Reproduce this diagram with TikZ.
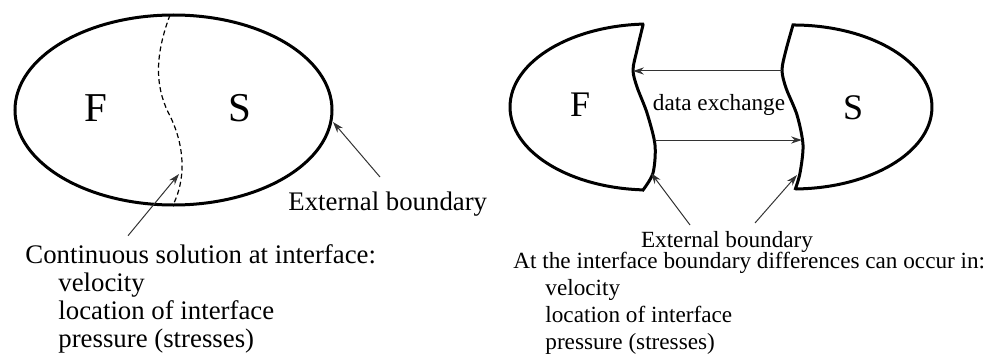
\documentclass[tikz,border=0pt]{standalone}
\usepackage{fontspec}
\setmainfont{Liberation Serif}
\usetikzlibrary{arrows.meta, positioning, calc}

\begin{document}
\begin{tikzpicture}[
    x=0.5pt, y=0.5pt,
    >=Stealth,
    region/.style={draw, line width=1.5pt},
    iface/.style={line width=0.6pt, dash pattern=on 2.5pt off 1.6pt},
    arr/.style={-{Stealth[length=5.5pt, width=3.6pt]}, line width=0.5pt, #1},
    arr/.default=black!80,
    phase/.style={font=\fontsize{#1}{#1}\selectfont, inner sep=0pt},
    phase/.default=20.5,
    bignote/.style={font=\fontsize{13.4}{14.2}\selectfont, inner sep=0pt, anchor=base west},
    smallnote/.style={font=\fontsize{11.6}{13.5}\selectfont, inner sep=0pt, anchor=base west},
]
    \useasboundingbox (0,0) rectangle (988,-358);

    % Left: one domain, continuous interface
    \draw[region] (173.5,-110) ellipse[x radius=158.5, y radius=95];
    \draw[iface] (170,-15) .. controls (155,-55) and (155,-85) .. (168,-112)
        .. controls (183,-140) and (188,-175) .. (173,-205);
    \node[phase] (fL) at (96,-108) {F};
    \node[phase] (sL) at (240,-108) {S};

    \coordinate (ifaceL) at (179,-174);
    \coordinate (rimL) at (333,-122);
    \node[bignote] (extL) at (288,-210) {External boundary};
    \node[bignote] (contL) at (25,-263) {Continuous solution at interface:};
    \foreach \txt [count=\i] in {velocity, location of interface, pressure (stresses)}
        \node[bignote] (itemL\i) at (58,-263-28.3*\i) {\txt};

    \draw[arr] ($(contL.north west)+(103,8)$) coordinate (tailL) -- (ifaceL);
    \draw[arr] ($(extL.north west)+(92,14)$) coordinate (tailE) -- (rimL);

    % Right: two domains, data exchange across the gap
    \draw[region] (642.7,-24.1) arc[start angle=93, end angle=267, x radius=140, y radius=83]
        -- plot[smooth] coordinates {(643,-190) (653,-173) (655,-145) (647,-113)
            (637,-87) (633,-70) (637,-50) (643,-25)} -- cycle;
    \draw[region] (795.4,-25) arc[start angle=89, end angle=-89, x radius=139, y radius=82]
        -- plot[smooth] coordinates {(795,-190) (800,-173) (803,-145) (797,-115)
            (786,-88) (782,-70) (786,-50) (793,-25)} -- cycle;
    \node[phase=18] (fR) at (580,-105) {F};
    \node[phase=18] (sR) at (853,-108) {S};

    \coordinate (fTop) at (633,-71);
    \coordinate (sTop) at (782,-71);
    \coordinate (fBot) at (655,-140);
    \coordinate (sBot) at (802,-140);
    \draw[arr] (sTop) -- (fTop);
    \draw[arr] (fBot) -- (sBot);
    \node[smallnote, anchor=base] (xchg) at (719,-111) {data exchange};

    \coordinate (rimF) at (651,-173);
    \coordinate (rimS) at (797,-175);
    \node[smallnote, anchor=base] (extR) at (727,-247) {External boundary};
    \draw[arr] (690,-225) coordinate (tailF) -- (rimF);
    \draw[arr] (755,-223) coordinate (tailS) -- (rimS);

    \node[smallnote] (diffR) at (513,-268) {At the interface boundary differences can occur in:};
    \foreach \txt [count=\i] in {velocity, location of interface, pressure (stresses)}
        \node[smallnote] (itemR\i) at (545,-268-27.3*\i) {\txt};
\end{tikzpicture}
\end{document}
